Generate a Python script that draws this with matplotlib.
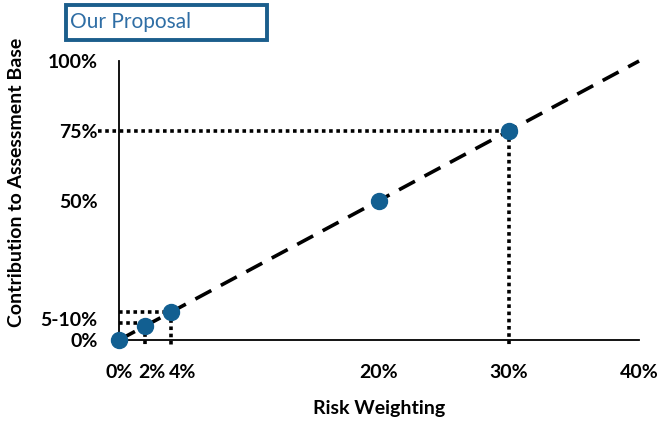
import matplotlib.pyplot as plt
from matplotlib.patches import Rectangle
from matplotlib.transforms import ScaledTranslation

# risk weighting (%) vs contribution to assessment base (%)
risk_weight = [0, 2, 4, 20, 30]
contribution = [0, 5, 10, 50, 75]

line_x = [0, 40]
line_y = [0, 100]

x_ticks = [0, 2, 4, 20, 30, 40]
x_labels = ['0%', '2%', '4%', '20%', '30%', '40%']
y_ticks = [0, 7.5, 50, 75, 100]
y_labels = ['0%', '5-10%', '50%', '75%', '100%']

BLUE = '#125f91'
plt.rcParams['font.family'] = ['Lato', 'DejaVu Sans']
FS = 14

fig = plt.figure(figsize=(6.69, 4.24), dpi=100)
ax = fig.add_axes([0.1779, 0.1981, 0.7773, 0.658])

# proportional trend line
ax.plot(line_x, line_y, color='black', lw=2.6, ls=(0, (5, 3)), clip_on=False, zorder=3)

# guide lines for the highlighted points
dot = dict(color='black', lw=2.6, ls=(0, (1, 1)), clip_on=False, zorder=2)
ax.plot([-1.6, risk_weight[4]], [contribution[4]] * 2, **dot)
ax.plot([risk_weight[4]] * 2, [contribution[4], -1.8], **dot)
ax.plot([0, risk_weight[2]], [contribution[2]] * 2, **dot)
ax.plot([0, risk_weight[1]], [contribution[1] + 1.2] * 2, **dot)
ax.plot([risk_weight[2]] * 2, [contribution[2], -1.8], **dot)
ax.plot([risk_weight[1]] * 2, [contribution[1], -1.8], **dot)

ax.plot(risk_weight, contribution, 'o', color=BLUE, ms=11.5, clip_on=False, zorder=4)

ax.set_xlim(0, 40)
ax.set_ylim(0, 100)
ax.spines['top'].set_visible(False)
ax.spines['right'].set_visible(False)
for s in ('left', 'bottom'):
    ax.spines[s].set_linewidth(1.3)

ax.set_xticks(x_ticks)
ax.set_xticklabels(x_labels, fontweight='bold', fontsize=FS)
ax.set_yticks(y_ticks)
ax.set_yticklabels(y_labels, fontweight='bold', fontsize=FS)
ax.tick_params(axis='x', length=0, pad=17)
ax.tick_params(axis='y', length=0, pad=15.5)

# end-of-axis tick marks only
ax.set_xticks([40], minor=True)
ax.set_yticks([100], minor=True)
ax.tick_params(which='minor', length=6, width=1.3, direction='out')

# spread the crowded labels near the origin
nudge = {1: 7, 2: 12}
for i, lab in enumerate(ax.get_xticklabels()):
    if i in nudge:
        lab.set_transform(lab.get_transform() +
                          ScaledTranslation(nudge[i] / 100, 0, fig.dpi_scale_trans))

ax.set_xlabel('Risk Weighting', fontweight='bold', fontsize=FS, labelpad=14)
ax.set_ylabel('Contribution to Assessment Base', fontweight='bold', fontsize=FS)
ax.yaxis.set_label_coords(-0.18, 0.566)

# title box
fig.add_artist(Rectangle((0.0987, 0.9057), 0.300, 0.0825, transform=fig.transFigure,
                         fill=False, edgecolor='#1b5e8c', lw=2.8))
fig.text(0.1046, 0.948, 'Our Proposal', color='#2f6ea5', fontsize=15,
         va='center', ha='left')

fig.savefig('out.png', dpi=100)
